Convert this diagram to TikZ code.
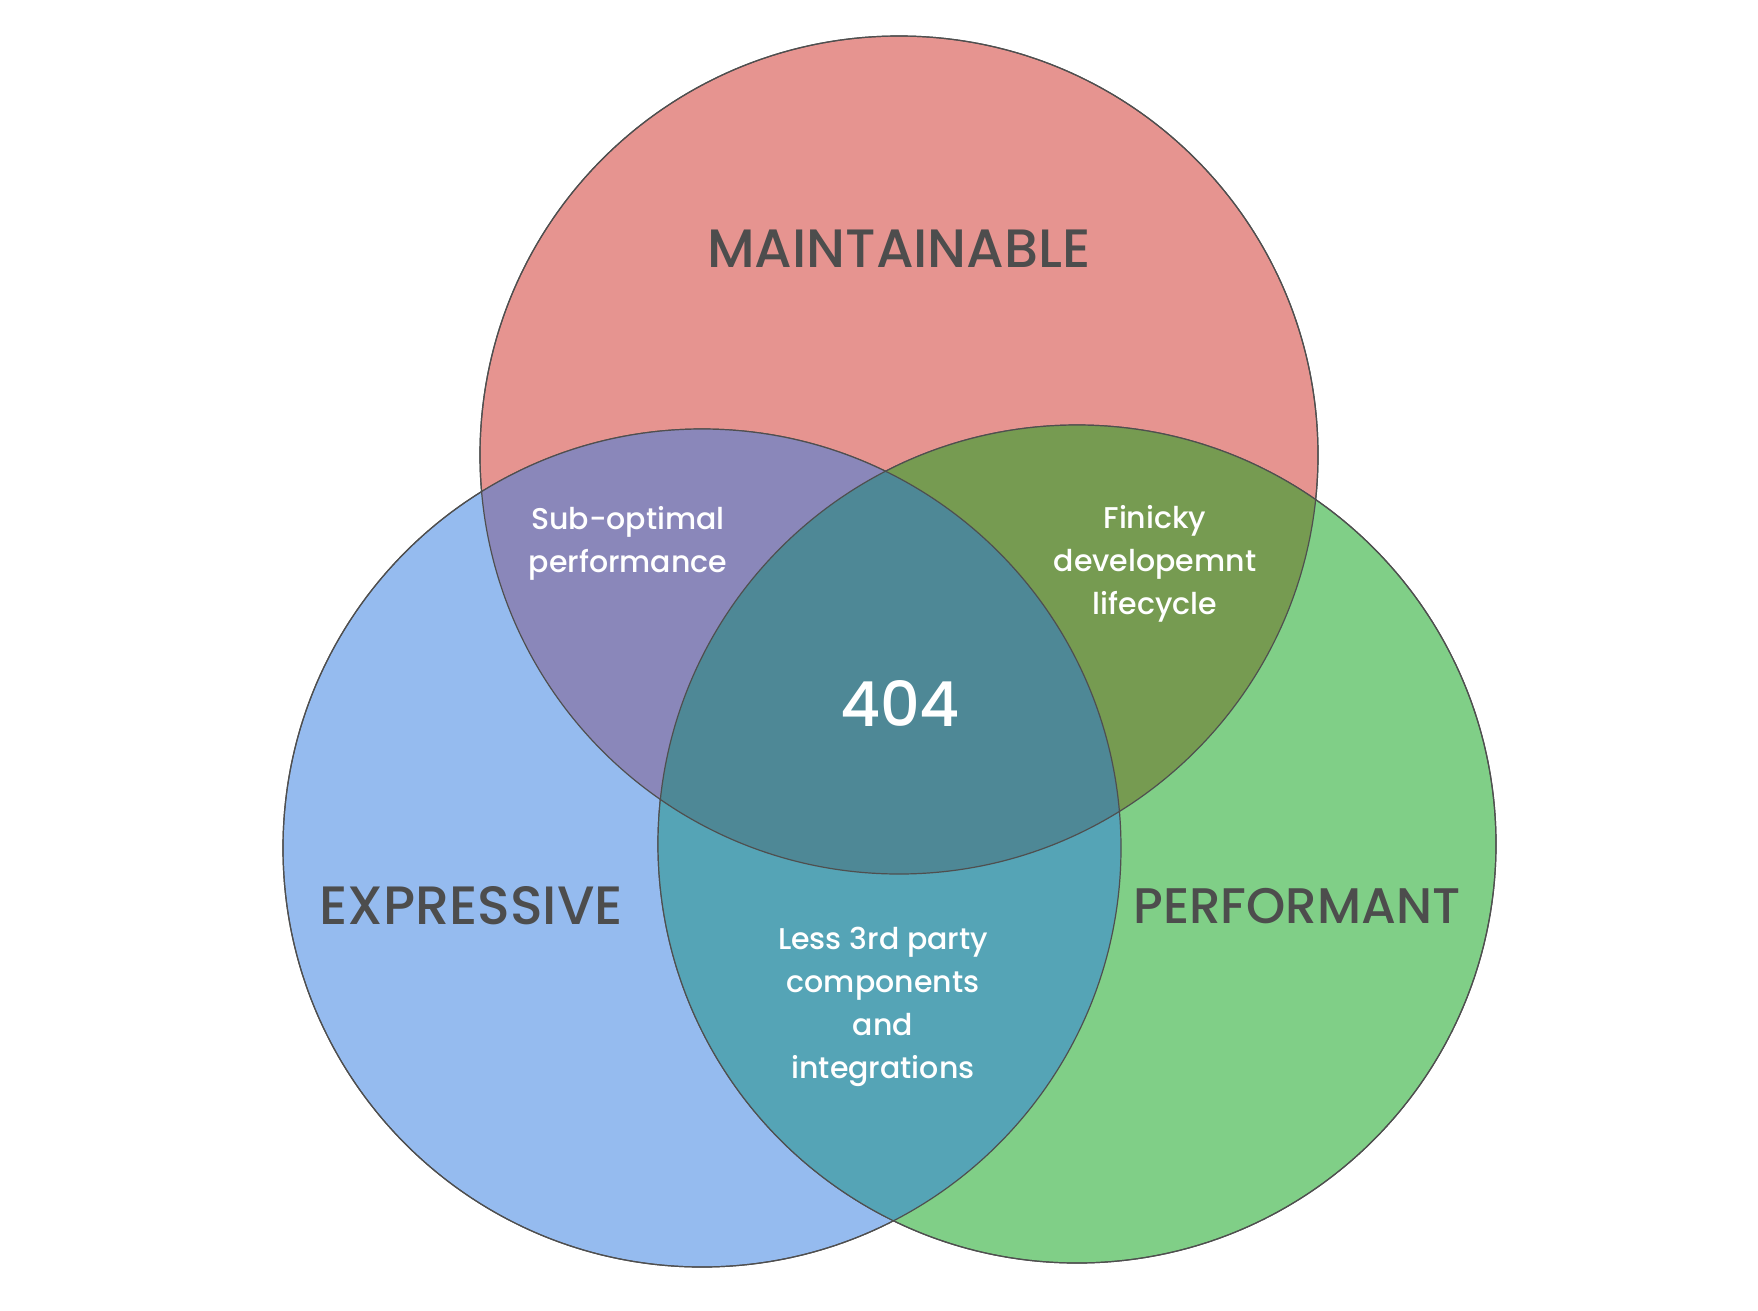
\documentclass[tikz,border=0pt]{standalone}
\usepackage{fontspec}
\setmainfont{Poppins}
\newfontfamily\medfont{Poppins Medium}
\usetikzlibrary{positioning}

\definecolor{maintred}{HTML}{E69490}
\definecolor{exprblue}{HTML}{95BBEF}
\definecolor{perfgreen}{HTML}{80CF87}
\definecolor{mixpurple}{HTML}{8A87BA}
\definecolor{mixolive}{HTML}{769B51}
\definecolor{mixteal}{HTML}{55A4B6}
\definecolor{mixcore}{HTML}{4E8896}
\definecolor{ringgray}{HTML}{4F4F4F}
\definecolor{titlegray}{HTML}{4D4D4D}

\begin{document}
\begin{tikzpicture}[x=1pt, y=-1pt,
		set/.style={circle, draw=ringgray, line width=1.2pt, inner sep=0pt, minimum size=838pt},
		title/.style={text=titlegray, font=\medfont\fontsize{54}{60}\selectfont},
		note/.style={text=white, align=center, font=\medfont\fontsize{30}{43}\selectfont},
		]
		\useasboundingbox (0,0) rectangle (1758,1310);
		
		% the three sets
		\node [set, fill=maintred] (maint) at (899,455) {};
		\node [set, fill=exprblue] (expr) at (702,848) {};
		\node [set, fill=perfgreen] (perf) at (1077,844) {};
		
		% overlaps
		\begin{scope}
			\clip (maint.center) circle (419);
			\fill [mixpurple] (expr.center) circle (419);
			\fill [mixolive] (perf.center) circle (419);
		\end{scope}
		\begin{scope}
			\clip (expr.center) circle (419);
			\fill [mixteal] (perf.center) circle (419);
			\clip (perf.center) circle (419);
			\fill [mixcore] (maint.center) circle (419);
		\end{scope}
		
		\draw [ringgray, line width=1.2pt] (maint.center) circle (419);
		\draw [ringgray, line width=1.2pt] (expr.center) circle (419);
		\draw [ringgray, line width=1.2pt] (perf.center) circle (419);
		
		% labels
		\node [title] (maintlabel) at (899,249) {MAINTAINABLE};
		\node [title] (exprlabel) at (471,906) {EXPRESSIVE};
		\node [title, font=\medfont\fontsize{50}{60}\selectfont] (perflabel) at (1297,906) {PERFORMANT};
		\node [note] (suboptimal) at (628,543) {Sub-optimal\\performance};
		\node [note] (finicky) at (1155,564) {Finicky\\developemnt\\lifecycle};
		\node [note] (less) at (883,1007) {Less 3rd party\\components\\and\\integrations};
		\node [text=white, font=\medfont\fontsize{62}{70}\selectfont] (core) at (900,703) {404};
	\end{tikzpicture}
\end{document}
